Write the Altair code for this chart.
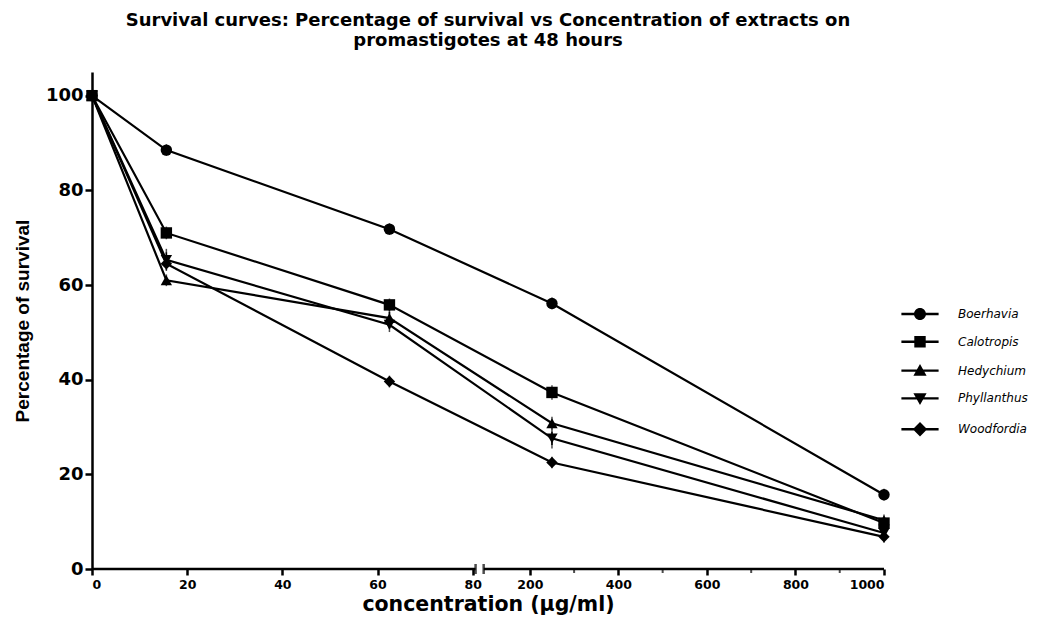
import altair as alt
import pandas as pd

# ---------------- data ----------------
concentrations = [0, 15.625, 62.5, 250, 1000]
series_names = ["Boerhavia", "Calotropis", "Hedychium", "Phyllanthus", "Woodfordia"]
boerhavia = [100, 88.5, 71.8, 56.1, 15.7]
calotropis = [100, 71.0, 55.8, 37.3, 9.7]
hedychium = [100, 61.0, 53.0, 30.8, 10.3]
phyllanthus = [100, 65.3, 51.6, 27.6, 7.6]
woodfordia = [100, 64.5, 39.6, 22.5, 6.8]
err_boerhavia = [0, 0.5, 0.5, 0.5, 0.5]
err_calotropis = [0, 0.6, 0.6, 0.8, 0.6]
err_hedychium = [0, 0.5, 1.3, 0.6, 0.5]
err_phyllanthus = [0, 1.6, 0.8, 1.4, 0.6]
err_woodfordia = [0, 0.6, 0.5, 0.5, 0.5]

left_ticks = [0, 20, 40, 60, 80]
right_ticks = [200, 400, 600, 800, 1000]
minor_ticks = [300, 500, 700, 900]
y_ticks = [0, 20, 40, 60, 80, 100]

# broken-axis mapping (left segment linear 0-80, right segment 100-1000 compressed)
RIGHT_START = 92.0
RIGHT_SCALE = 10.75
BREAK_LO = 80.6
BREAK_HI = 82.3


def xt(v):
    return v if v <= 82 else RIGHT_START + (v - 200) / RIGHT_SCALE


X_MAX = xt(1000)

values = [boerhavia, calotropis, hedychium, phyllanthus, woodfordia]
errors = [err_boerhavia, err_calotropis, err_hedychium, err_phyllanthus, err_woodfordia]
rows = []
for name, vals, errs in zip(series_names, values, errors):
    for c, v, e in zip(concentrations, vals, errs):
        rows.append({"series": name, "conc": c, "xt": xt(c), "y": v, "lo": v - e, "hi": v + e})
df = pd.DataFrame(rows)

axis_segments = pd.DataFrame({"a": [0, BREAK_HI], "b": [BREAK_LO, X_MAX]})
break_bars = pd.DataFrame({"x": [BREAK_LO, BREAK_HI]})
minor_df = pd.DataFrame({"x": [xt(v) for v in minor_ticks]})

W, H = 792, 497
FONT = "Liberation Sans"
WIDE = "DejaVu Sans"

x_scale = alt.Scale(domain=[0, X_MAX], nice=False, zero=False)
y_scale = alt.Scale(domain=[0, 105], nice=False)

x_axis = alt.Axis(
    values=[xt(v) for v in left_ticks + right_ticks],
    labelExpr=f"datum.value <= 82 ? format(datum.value, 'd') : format(round((datum.value - {RIGHT_START}) * {RIGHT_SCALE} + 200), 'd')",
    domain=False, grid=False, tickSize=6, tickWidth=2.5, tickColor="black",
    labelFont=WIDE, labelFontSize=12.5, labelFontWeight="bold", labelColor="black",
    labelPadding=3, title="concentration (µg/ml)", titleFont=WIDE, titleFontSize=20.5,
    titleFontWeight="bold", titleColor="black", titlePadding=4,
)
y_axis = alt.Axis(
    values=y_ticks, grid=False, domainWidth=2.5, domainColor="black", tickSize=7,
    tickWidth=2.5, tickColor="black", labelFont=WIDE, labelFontSize=18,
    labelFontWeight="bold", labelColor="black", labelPadding=2,
    title="Percentage of survival", titleFont=FONT,
    titleFontSize=19, titleFontWeight="bold", titleColor="black", titlePadding=13,
)

base = alt.Chart(df)

lines = base.mark_line(color="black", strokeWidth=2.2).encode(
    x=alt.X("xt:Q", scale=x_scale, axis=x_axis),
    y=alt.Y("y:Q", scale=y_scale, axis=y_axis),
    detail="series:N",
    order="conc:Q",
)

err_rules = base.mark_rule(color="black", strokeWidth=1.5).encode(
    x="xt:Q", y="lo:Q", y2="hi:Q"
)
err_caps_hi = base.mark_tick(color="black", thickness=1.5, size=7).encode(x="xt:Q", y="hi:Q")
err_caps_lo = base.mark_tick(color="black", thickness=1.5, size=7).encode(x="xt:Q", y="lo:Q")

points = base.mark_point(filled=True, color="black", opacity=1, size=130).encode(
    x="xt:Q",
    y="y:Q",
    shape=alt.Shape(
        "series:N",
        scale=alt.Scale(domain=series_names,
                        range=["circle", "square", "triangle-up", "triangle-down", "diamond"]),
        legend=None,
    ),
)

# legend glyphs: a filled thin bar (the line) plus the marker, all wound clockwise
legend_paths = [
    "M-3.1,-0.2H3.1V0.2H-3.1ZM-1,0A1,1,0,1,1,1,0A1,1,0,1,1,-1,0Z",
    "M-3.1,-0.2H3.1V0.2H-3.1ZM-0.95,-0.95H0.95V0.95H-0.95Z",
    "M-3.1,-0.2H3.1V0.2H-3.1ZM0,-1.1L1.1,0.85L-1.1,0.85Z",
    "M-3.1,-0.2H3.1V0.2H-3.1ZM-1.1,-0.85L1.1,-0.85L0,1.1Z",
    "M-3.1,-0.2H3.1V0.2H-3.1ZM0,-1.2L1.2,0L0,1.2L-1.2,0Z",
]
legend_layer = base.mark_point(filled=True, color="black", opacity=1).encode(
    x="xt:Q",
    y="y:Q",
    shape=alt.Shape(
        "series:N",
        scale=alt.Scale(domain=series_names, range=legend_paths),
        legend=alt.Legend(
            title=None, orient="none", legendX=821, legendY=235,
            symbolSize=144, symbolFillColor="black", symbolOpacity=1, labelFont=WIDE,
            labelFontSize=12, labelFontStyle="italic", labelColor="black",
            labelOffset=31, rowPadding=9.8,
        ),
    ),
).transform_filter("false")

axis_line = alt.Chart(axis_segments).mark_rule(color="black", strokeWidth=2.5).encode(
    x="a:Q", x2="b:Q", y=alt.datum(0)
)
breaks = alt.Chart(break_bars).mark_tick(
    color="black", orient="vertical", size=10, thickness=2.5
).encode(x="x:Q", y=alt.datum(0))
minor = alt.Chart(minor_df).mark_tick(
    color="black", orient="vertical", size=4, thickness=2, yOffset=2
).encode(x="x:Q", y=alt.datum(0))

chart = alt.layer(
    axis_line, breaks, minor, lines, err_rules, err_caps_hi, err_caps_lo, points, legend_layer
).resolve_scale(shape="independent").properties(
    width=W,
    height=H,
    padding={"left": 5, "top": 4, "right": 5, "bottom": 5},
    title=alt.TitleParams(
        ["Survival curves: Percentage of survival vs Concentration of extracts on",
         "promastigotes at 48 hours"],
        font=WIDE, fontSize=18, fontWeight="bold", color="black", anchor="middle",
        offset=22, lineHeight=20,
    ),
).configure(background="white", view={"stroke": None})

chart.save("out.html", embed_options={"renderer": "svg", "actions": False})
